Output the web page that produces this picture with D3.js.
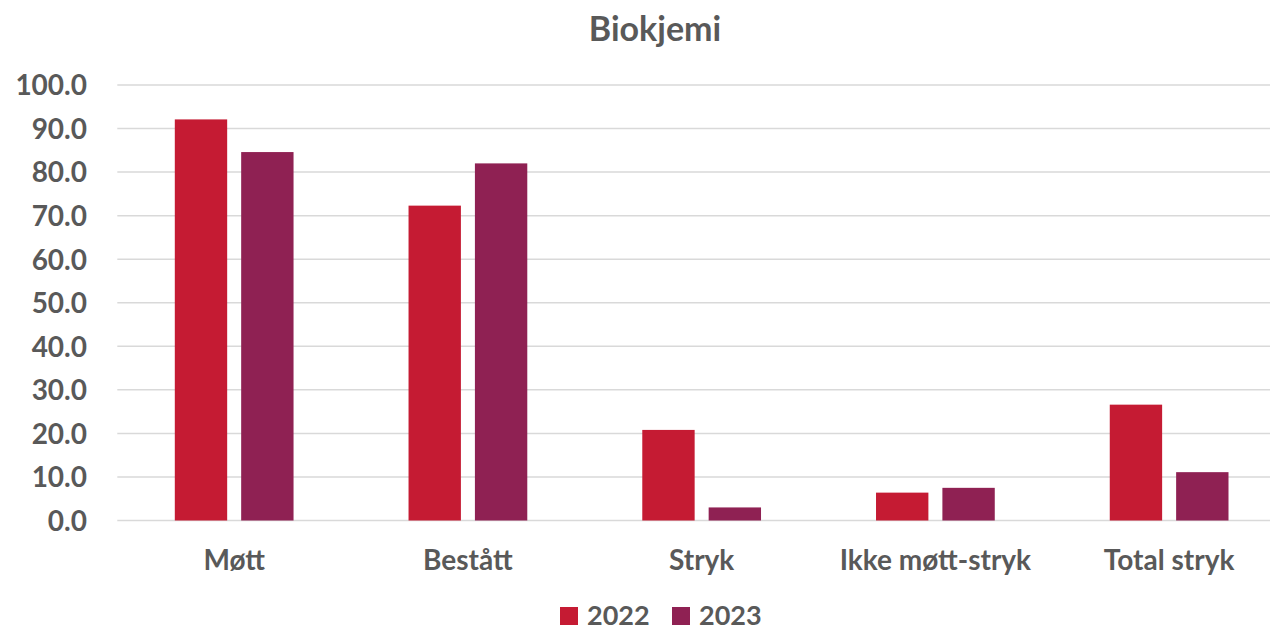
<!DOCTYPE html>
<html>
<head>
<meta charset="utf-8">
<script src="https://cdn.jsdelivr.net/npm/d3@7"></script>
<style>
  body { margin: 0; background: #fff; }
  svg text { font-family: Lato, "Open Sans", sans-serif; font-weight: bold; fill: #595959; }
</style>
</head>
<body>
<div id="chart"></div>
<script>
var categories = ["Møtt", "Bestått", "Stryk", "Ikke møtt-stryk", "Total stryk"];
var years = ["2022", "2023"];
var values2022 = [92.1, 72.3, 20.8, 6.4, 26.6];
var values2023 = [84.6, 82.0, 3.0, 7.5, 11.1];
var yTicks = [0, 10, 20, 30, 40, 50, 60, 70, 80, 90, 100];
var colors = ["#C51B33", "#8F2153"];

var w = 1270, h = 630,
    svg = d3.select("#chart")
        .append("svg")
        .attr("width", w)
        .attr("height", h);

// plot area runs past the right edge, like the cropped source
var plotLeft = 117.3, plotRight = 1286, plotTop = 85, plotBottom = 520.5;

var y = d3.scaleLinear().domain([0, 100]).range([plotBottom, plotTop]);

var x0 = d3.scaleBand()
    .domain(categories)
    .range([plotLeft, plotRight])
    .paddingInner(0.492)
    .paddingOuter(0.246);

var x1 = d3.scaleBand()
    .domain(years)
    .range([0, x0.bandwidth()])
    .paddingInner(0.211);

var color = d3.scaleOrdinal().domain(years).range(colors);

// gridlines
svg.append("g")
    .selectAll("line")
    .data(yTicks)
  .enter().append("line")
    .attr("x1", plotLeft)
    .attr("x2", plotRight)
    .attr("y1", function(d) { return y(d); })
    .attr("y2", function(d) { return y(d); })
    .attr("stroke", "#D9D9D9")
    .attr("stroke-width", 1.5);

// y axis labels
var yAxis = d3.axisLeft(y)
    .tickValues(yTicks)
    .tickFormat(d3.format(".1f"))
    .tickSize(0)
    .tickPadding(0);

svg.append("g")
    .attr("transform", "translate(" + 87 + ",0)")
    .call(yAxis)
    .call(function(g) { g.select(".domain").remove(); })
    .selectAll("text")
    .attr("font-size", 28)
    .attr("font-family", null)
    .attr("dy", "0.35em");

// bars
var rows = categories.map(function(c, i) {
  return { cat: c, vals: [
    { year: "2022", v: values2022[i] },
    { year: "2023", v: values2023[i] }
  ] };
});

var groups = svg.append("g")
    .selectAll("g")
    .data(rows)
  .enter().append("g")
    .attr("transform", function(d) { return "translate(" + x0(d.cat) + ",0)"; });

groups.selectAll("rect")
    .data(function(d) { return d.vals; })
  .enter().append("rect")
    .attr("x", function(d) { return x1(d.year); })
    .attr("width", x1.bandwidth())
    .attr("y", function(d) { return y(d.v); })
    .attr("height", function(d) { return y(0) - y(d.v); })
    .attr("fill", function(d) { return color(d.year); });

// x axis labels
var xAxis = d3.axisBottom(x0).tickSize(0).tickPadding(0);
svg.append("g")
    .attr("transform", "translate(0," + 560 + ")")
    .call(xAxis)
    .call(function(g) { g.select(".domain").remove(); })
    .selectAll("text")
    .attr("font-size", 28)
    .attr("font-family", null)
    .attr("dy", "0.35em");

// title
svg.append("text")
    .attr("x", 655)
    .attr("y", 41)
    .attr("text-anchor", "middle")
    .attr("font-size", 34)
    .text("Biokjemi");

// legend
var legend = svg.append("g")
    .selectAll("g")
    .data(years)
  .enter().append("g")
    .attr("transform", function(d, i) { return "translate(" + (560 + i * 112) + ",607)"; });

legend.append("rect")
    .attr("width", 18)
    .attr("height", 18)
    .attr("fill", function(d) { return color(d); });

legend.append("text")
    .attr("x", 27)
    .attr("y", 9)
    .attr("dy", "0.35em")
    .attr("font-size", 27)
    .text(function(d) { return d; });
</script>
</body>
</html>
